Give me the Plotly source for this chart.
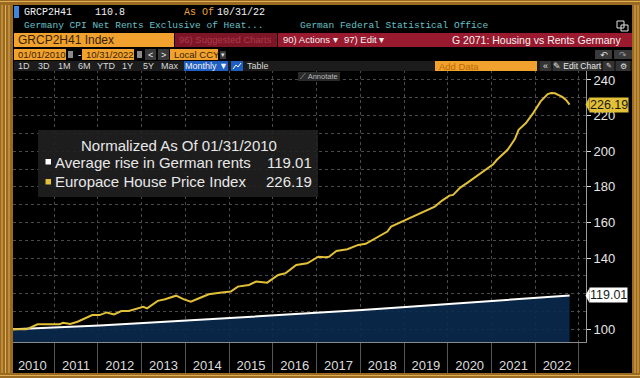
import plotly.graph_objects as go

# ---------------- data ----------------
rent_dates = ["2010-01-15", "2011-01-15", "2012-01-15", "2013-01-15", "2014-01-15",
              "2015-01-15", "2016-01-15", "2017-01-15", "2018-01-15", "2019-01-15",
              "2020-01-15", "2021-01-15", "2022-01-15", "2022-10-15"]
rent_values = [100.0, 101.0, 102.2, 103.5, 104.9, 106.3, 107.7, 109.2, 110.8,
               112.5, 114.2, 115.9, 117.6, 119.01]

house_months = ["2010-01", "2010-05", "2010-08", "2010-12", "2011-02", "2011-03", "2011-05",
                "2011-07", "2011-11", "2012-01", "2012-03", "2012-05", "2012-07", "2012-09",
                "2013-01", "2013-02", "2013-05", "2013-07", "2013-10", "2013-12", "2014-02",
                "2014-04", "2014-07", "2014-10", "2015-01", "2015-03", "2015-06", "2015-08",
                "2015-11", "2016-02", "2016-04", "2016-07", "2016-10", "2017-01", "2017-03",
                "2017-04", "2017-06", "2017-09", "2017-12", "2018-02", "2018-05", "2018-08",
                "2018-09", "2018-11", "2019-03", "2019-07", "2019-09", "2019-11", "2020-01",
                "2020-02", "2020-04", "2020-06", "2020-08", "2020-11", "2021-01", "2021-02",
                "2021-05", "2021-07", "2021-08", "2021-10", "2021-12", "2022-02", "2022-04",
                "2022-05", "2022-06", "2022-07", "2022-08", "2022-09", "2022-10"]
house_values = [100.0, 100.0, 102.8, 103.0, 102.8, 103.7, 103.0,
                104.3, 108.0, 108.0, 109.5, 108.4, 110.3, 110.3,
                112.7, 111.8, 116.0, 116.9, 118.9, 117.0, 115.5,
                117.2, 119.7, 120.6, 121.2, 124.0, 124.9, 126.8,
                126.2, 130.5, 131.5, 136.1, 137.1, 140.8, 140.5,
                140.8, 144.0, 145.0, 147.4, 148.0, 151.2, 154.9,
                157.7, 159.6, 163.0, 167.0, 168.9, 172.3, 175.1,
                175.5, 179.6, 182.4, 185.4, 189.5, 192.7, 195.2,
                200.8, 206.8, 212.0, 215.8, 221.4, 228.0, 232.1,
                232.7, 232.5, 231.5, 230.5, 228.8, 226.19]
house_dates = [m + "-15" for m in house_months]

y_tick_values = [100, 120, 140, 160, 180, 200, 220, 240]
y_tick_text = ["100", "", "140", "160", "180", "200", "220", "240"]  # 120 hidden under the value tag
period_buttons = ["1D", "3D", "1M", "6M", "YTD", "1Y", "5Y", "Max"]
period_button_x = [24, 44, 64, 84, 106, 127, 148, 170]

rent_name = "Average rise in German rents"
house_name = "Europace House Price Index"

# ---------------- layout helpers ----------------
W, H = 640, 378
L, R, T, B = 13, 586, 70, 342


def px(x):
    return (x - L) / (R - L)


def py(y):
    return (B - y) / (B - T)


MONO = "Liberation Mono, DejaVu Sans Mono, monospace"
SANS = "Liberation Sans, Arial, sans-serif"

shapes = []
annotations = []


def rect(x0, y0, x1, y1, color, layer="above", line_color=None):
    shapes.append(dict(type="rect", xref="paper", yref="paper",
                       x0=px(x0), x1=px(x1), y0=py(y1), y1=py(y0),
                       fillcolor=color, layer=layer,
                       line=dict(width=1 if line_color else 0, color=line_color or color)))


def text(x, y, s, color, size, family=SANS, anchor="left"):
    annotations.append(dict(xref="paper", yref="paper", x=px(x), y=py(y), text=s,
                            showarrow=False, xanchor=anchor, yanchor="middle",
                            font=dict(color=color, size=size, family=family)))


# frame: black screen inside golden border
rect(13, 5, 632, 373, "#000000", layer="below")
for gx in [2, 5.5, 9, 635, 638]:
    shapes.append(dict(type="line", xref="paper", yref="paper", x0=px(gx), x1=px(gx),
                       y0=py(373), y1=py(5), line=dict(color="#e0ae52", width=1), layer="below"))
for gy in [1.5, 375.5]:
    shapes.append(dict(type="line", xref="paper", yref="paper", x0=px(0), x1=px(640),
                       y0=py(gy), y1=py(gy), line=dict(color="#e0ae52", width=1), layer="below"))

# row 1
rect(14, 6, 19, 18, "#3d86e0")
text(22, 12, "GRCP2H41", "#f2f2f2", 10, MONO)
text(93, 12, "110.8", "#f2f2f2", 10, MONO)
text(182, 12, "As Of", "#e8a33c", 10, MONO)
text(215, 12, "10/31/22", "#f2f2f2", 10, MONO)
# row 2
text(22, 26, "Germany CPI Net Rents Exclusive of Heat...", "#66c2c9", 9.5, MONO)
text(298, 26, "German Federal Statistical Office", "#66c2c9", 9.5, MONO)
rect(617, 21, 624, 28, "rgba(0,0,0,0)", line_color="#e0e0e0")
rect(621, 25, 628, 31, "rgba(0,0,0,0)", line_color="#e0e0e0")
# row 3
rect(14, 33, 174, 47, "#f0a12e")
text(16, 40, "GRCP2H41 Index", "#3a2300", 12)
rect(175, 33, 277, 47, "#7d1526")
text(177, 40, "96) Suggested Charts", "#a83a4d", 9.5)
rect(278, 33, 632, 47, "#99192f")
text(281, 40, "90) Actions ▾", "#f2f2f2", 9.5)
text(342, 40, "97) Edit ▾", "#f2f2f2", 9.5)
text(623, 40, "G 2071: Housing vs Rents Germany", "#f2f2f2", 10.5, anchor="right")
# row 4
rect(14, 49, 66, 60, "#f0a12e")
text(15.5, 54.5, "01/01/2010", "#3a2300", 9.5)
rect(68, 51, 73, 58, "#8a8a8a")
text(76, 54.5, "-", "#e0e0e0", 10)
rect(82, 49, 134, 60, "#f0a12e")
text(83.5, 54.5, "10/31/2022", "#3a2300", 9.5)
rect(137, 51, 142, 58, "#8a8a8a")
rect(145, 49, 156, 60, "#3a3a3a")
text(150.5, 54.5, "<", "#f0f0f0", 9, anchor="center")
rect(158, 49, 169, 60, "#3a3a3a")
text(163.5, 54.5, ">", "#f0f0f0", 9, anchor="center")
rect(170, 49, 218, 60, "#f0a12e")
text(171.5, 54.5, "Local CCY", "#3a2300", 9.5)
rect(220, 51, 226, 59, "#3a3a3a")
text(223, 55, "▾", "#e0e0e0", 7, anchor="center")
rect(595, 50, 612, 59, "#3a3a3a")
text(603.5, 54.5, "↶", "#e0e0e0", 9, "DejaVu Sans", anchor="center")
rect(614, 50, 632, 59, "#3a3a3a")
text(623, 54.5, "↷", "#9a9a9a", 9, "DejaVu Sans", anchor="center")
# row 5
rect(14, 61, 632, 71, "#1c1c1c")
for lab, bx in zip(period_buttons, period_button_x):
    text(bx, 66, lab, "#d8d8d8", 9, anchor="center")
rect(184, 61, 228, 71, "#1f5fc2")
text(206, 66, "Monthly ▼", "#f2f2f2", 9, anchor="center")
rect(231, 61, 243, 71, "#1f5fc2")
shapes.append(dict(type="path", xref="paper", yref="paper",
                   path=f"M {px(233)},{py(69)} L {px(236)},{py(65)} L {px(238)},{py(67)} L {px(241)},{py(63)}",
                   line=dict(color="#ffffff", width=1)))
text(258, 66, "Table", "#d8d8d8", 9, anchor="center")
rect(435, 61, 537, 71, "#f0a12e")
text(437, 66, "Add Data", "#b86a00", 9.5)
rect(540, 61, 551, 71, "#333333")
text(545.5, 66, "«", "#e0e0e0", 9, anchor="center")
rect(553, 61, 601, 71, "#333333")
text(577, 66, "✎ Edit Chart", "#e8e8e8", 8.5, anchor="center")
rect(603, 61, 614, 71, "#333333")
text(608.5, 66, "✎", "#e0e0e0", 7, "DejaVu Sans", anchor="center")
rect(616, 61, 630, 71, "#333333")
text(623, 66, "⚙", "#e0e0e0", 8, "DejaVu Sans", anchor="center")
# annotate button
rect(298, 72, 340, 81, "#2a2a2a")
text(319, 76.5, "⟋ Annotate", "#b8b8b8", 7.5, anchor="center")

# legend box
rect(38, 130, 318, 197, "rgba(32,32,32,0.9)")
text(179, 145, "Normalized As Of 01/31/2010", "#e8e8e8", 15, anchor="center")
rect(45.5, 159, 51, 164.5, "#ffffff")
text(53, 162.5, rent_name, "#e8e8e8", 15)
text(314, 162.5, f"{rent_values[-1]:.2f}", "#e8e8e8", 15, anchor="right")
rect(45.5, 179, 51, 184.5, "#e2c037")
text(53, 181.5, house_name, "#e8e8e8", 15)
text(314, 181.5, f"{house_values[-1]:.2f}", "#e8e8e8", 15, anchor="right")

# last-value tags on right axis
for val, bg in [(house_values[-1], "#e2c037"), (rent_values[-1], "#ffffff")]:
    annotations.append(dict(xref="paper", yref="y", x=px(589), y=val, text=f"{val:.2f}",
                            showarrow=False, xanchor="left", yanchor="middle",
                            bgcolor=bg, borderpad=0,
                            font=dict(color="#1a1a1a", size=12.5, family=SANS)))
    shapes.append(dict(type="path", xref="paper", yref="y",
                       path=f"M {px(589.5)},{val + 4.2} L {px(585.5)},{val} L {px(589.5)},{val - 4.2} Z",
                       fillcolor=bg, line=dict(width=0), layer="above"))

# ---------------- traces ----------------
fig = go.Figure()
fig.add_trace(go.Scatter(x=rent_dates, y=rent_values, mode="lines", name=rent_name,
                         line=dict(color="#ffffff", width=2),
                         fill="tozeroy", fillcolor="rgba(11,42,78,0.9)", hoverinfo="skip"))
fig.add_trace(go.Scatter(x=house_dates, y=house_values, mode="lines", name=house_name,
                         line=dict(color="#e2c037", width=2), hoverinfo="skip"))

fig.update_layout(
    width=W, height=H,
    margin=dict(l=L, r=W - R, t=T, b=H - B, pad=0, autoexpand=False),
    paper_bgcolor="#9a6a22",
    plot_bgcolor="#000000",
    showlegend=False,
    shapes=shapes,
    annotations=annotations,
    xaxis=dict(
        type="date", range=["2010-01-22", "2023-03-01"], automargin=False,
        tick0="2010-01-01", dtick="M12", tickformat="%Y", ticklabelmode="period",
        ticks="outside", ticklen=30, tickcolor="#555555", tickwidth=1,
        ticklabelstandoff=-19,
        showgrid=True, gridcolor="#4a4a4a", griddash="dot", gridwidth=1,
        showline=True, linecolor="#8a8a8a", linewidth=1,
        tickfont=dict(color="#dcdcdc", size=13, family=SANS),
        zeroline=False, fixedrange=True,
    ),
    yaxis=dict(
        side="right", range=[92.9, 245.6], automargin=False,
        tickvals=y_tick_values, ticktext=y_tick_text,
        ticks="outside", ticklen=4, tickcolor="#dddddd",
        showgrid=True, gridcolor="#4a4a4a", griddash="dot",
        minor=dict(dtick=10, tick0=100, showgrid=True, gridcolor="#4a4a4a", griddash="dot", ticks=""),
        showline=True, linecolor="#9a9a9a", linewidth=1,
        tickfont=dict(color="#e6e6e6", size=13, family=SANS),
        zeroline=False, fixedrange=True,
    ),
)

fig.write_html("out.html", config={"displayModeBar": False, "staticPlot": True},
               post_script="document.body.style.margin='0px';document.body.style.overflow='hidden';")
